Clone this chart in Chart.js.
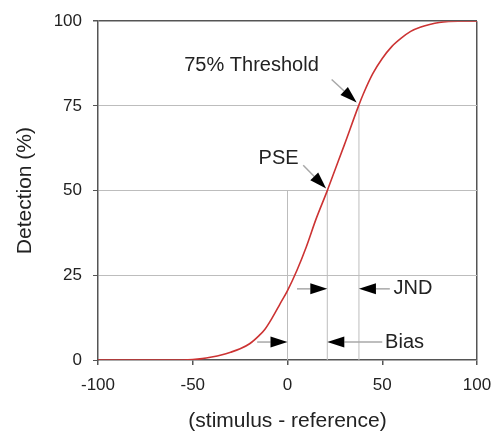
<!DOCTYPE html>
<html>
<head>
<meta charset="utf-8">
<script src="https://cdn.jsdelivr.net/npm/chart.js@4"></script>
<style>
  body { margin: 0; background: #fff; }
  canvas { display: block; }
</style>
</head>
<body>
<canvas id="psycho" width="494" height="432"></canvas>
<script>
// psychometric curve
const curveX = [-100, -90, -80, -70, -60, -55, -50, -45, -40, -35, -30, -25, -20, -15, -12, -8, -4, 0, 5, 10, 15, 21, 25, 30, 37.5, 40, 45, 50, 55, 60, 65, 70, 75, 80, 85, 90, 95, 100];
const curveY = [0, 0, 0, 0, 0, 0, 0.1, 0.4, 0.9, 1.5, 2.3, 3.3, 4.8, 7.2, 9, 12.5, 16.5, 20.5, 26.5, 33.5, 41.5, 50, 56, 63.5, 75, 78.5, 84.5, 89, 92.5, 95, 97, 98.2, 99, 99.6, 99.9, 100, 100, 100];

const xTicks = [-100, -50, 0, 50, 100];
const yTicks = [0, 25, 50, 75, 100];

// thin vertical drop lines (reference, PSE, 75% threshold)
const refX = [0, 21, 37.7];
const refTop = [50, 50, 75];

// labels
const noteText = ['75% Threshold', 'PSE', 'JND', 'Bias'];
const noteX = [-19, -4.7, 56, 51.5];
const noteY = [87, 59.6, 21, 5.3];
const noteAlign = ['center', 'center', 'left', 'left'];

// arrows: tail -> tip
const arrowTailX = [23.3, 8.3, 5, 54, -16, 50];
const arrowTailY = [82.8, 57.5, 21, 21, 5.3, 5.3];
const arrowTipX = [36.5, 20.4, 21, 37.7, 0, 21];
const arrowTipY = [76, 50.6, 21, 21, 5.3, 5.3];

const fontFam = "Arial, 'Liberation Sans', sans-serif";
const axisCol = '#555555';
const gridCol = '#bdbdbd';

let datasets = [];
datasets.push({
  data: curveX.map(function (x, i) { return { x: x, y: curveY[i] }; }),
  showLine: true,
  borderColor: '#cc3333',
  borderWidth: 1.6,
  pointRadius: 0,
  cubicInterpolationMode: 'monotone',
  order: 0
});
for (let i = 0; i < refX.length; i++) {
  datasets.push({
    data: [{ x: refX[i], y: 0 }, { x: refX[i], y: refTop[i] }],
    showLine: true,
    borderColor: gridCol,
    borderWidth: 1,
    pointRadius: 0,
    order: 1
  });
}

const notes = {
  id: 'notes',
  afterDatasetsDraw(chart) {
    const c = chart.ctx;
    const sx = chart.scales.x;
    const sy = chart.scales.y;
    c.save();
    for (let i = 0; i < arrowTailX.length; i++) {
      const x0 = sx.getPixelForValue(arrowTailX[i]);
      const y0 = sy.getPixelForValue(arrowTailY[i]);
      const x1 = sx.getPixelForValue(arrowTipX[i]);
      const y1 = sy.getPixelForValue(arrowTipY[i]);
      const len = Math.hypot(x1 - x0, y1 - y0);
      const ux = (x1 - x0) / len, uy = (y1 - y0) / len;
      const head = 17, half = 5.5;
      const bx = x1 - ux * head, by = y1 - uy * head;
      c.strokeStyle = '#a8a8a8';
      c.lineWidth = 1.5;
      c.beginPath();
      c.moveTo(x0, y0);
      c.lineTo(bx, by);
      c.stroke();
      c.fillStyle = '#000';
      c.beginPath();
      c.moveTo(x1, y1);
      c.lineTo(bx - uy * half, by + ux * half);
      c.lineTo(bx + uy * half, by - ux * half);
      c.closePath();
      c.fill();
    }
    c.fillStyle = '#222';
    c.font = '20px ' + fontFam;
    c.textBaseline = 'middle';
    for (let i = 0; i < noteText.length; i++) {
      c.textAlign = noteAlign[i];
      c.fillText(noteText[i], sx.getPixelForValue(noteX[i]), sy.getPixelForValue(noteY[i]));
    }
    c.restore();
  }
};

const ctx = document.getElementById('psycho');
const psycho = new Chart(ctx, {
  type: 'scatter',
  data: { datasets: datasets },
  options: {
    responsive: false,
    animation: false,
    layout: { padding: { left: 0, right: 17, top: 21, bottom: 0 } },
    plugins: {
      legend: { display: false },
      tooltip: { enabled: false }
    },
    scales: {
      x: {
        type: 'linear',
        min: -100,
        max: 100,
        afterBuildTicks: function (s) { s.ticks = xTicks.map(function (v) { return { value: v }; }); },
        afterFit: function (s) { s.height = 72; s.paddingLeft = 0; s.paddingRight = 0; },
        ticks: { color: '#222', padding: 10, maxRotation: 0, font: { family: fontFam, size: 17 } },
        grid: {
          color: function (c) { return c.tick && c.tick.value === 100 ? axisCol : 'rgba(0,0,0,0)'; },
          lineWidth: 1.5,
          tickColor: axisCol,
          tickLength: 5
        },
        border: { color: axisCol, width: 1.5 },
        title: {
          display: true,
          text: '(stimulus - reference)',
          color: '#222',
          padding: { top: 0, bottom: 0 },
          font: { family: fontFam, size: 21, lineHeight: 1 }
        }
      },
      y: {
        min: 0,
        max: 100,
        afterBuildTicks: function (s) { s.ticks = yTicks.map(function (v) { return { value: v }; }); },
        afterFit: function (s) { s.width = 98; },
        ticks: { color: '#222', padding: 11, font: { family: fontFam, size: 17 } },
        grid: {
          color: function (c) {
            if (!c.tick) return gridCol;
            if (c.tick.value === 100) return axisCol;
            if (c.tick.value === 0) return 'rgba(0,0,0,0)';
            return gridCol;
          },
          lineWidth: function (c) { return c.tick && c.tick.value === 100 ? 1.5 : 1; },
          tickColor: axisCol,
          tickLength: 5
        },
        border: { color: axisCol, width: 1.5 },
        title: {
          display: true,
          text: 'Detection (%)',
          color: '#222',
          padding: { top: 15, bottom: 0 },
          font: { family: fontFam, size: 21, lineHeight: 1 }
        }
      }
    }
  },
  plugins: [notes]
});
</script>
</body>
</html>
